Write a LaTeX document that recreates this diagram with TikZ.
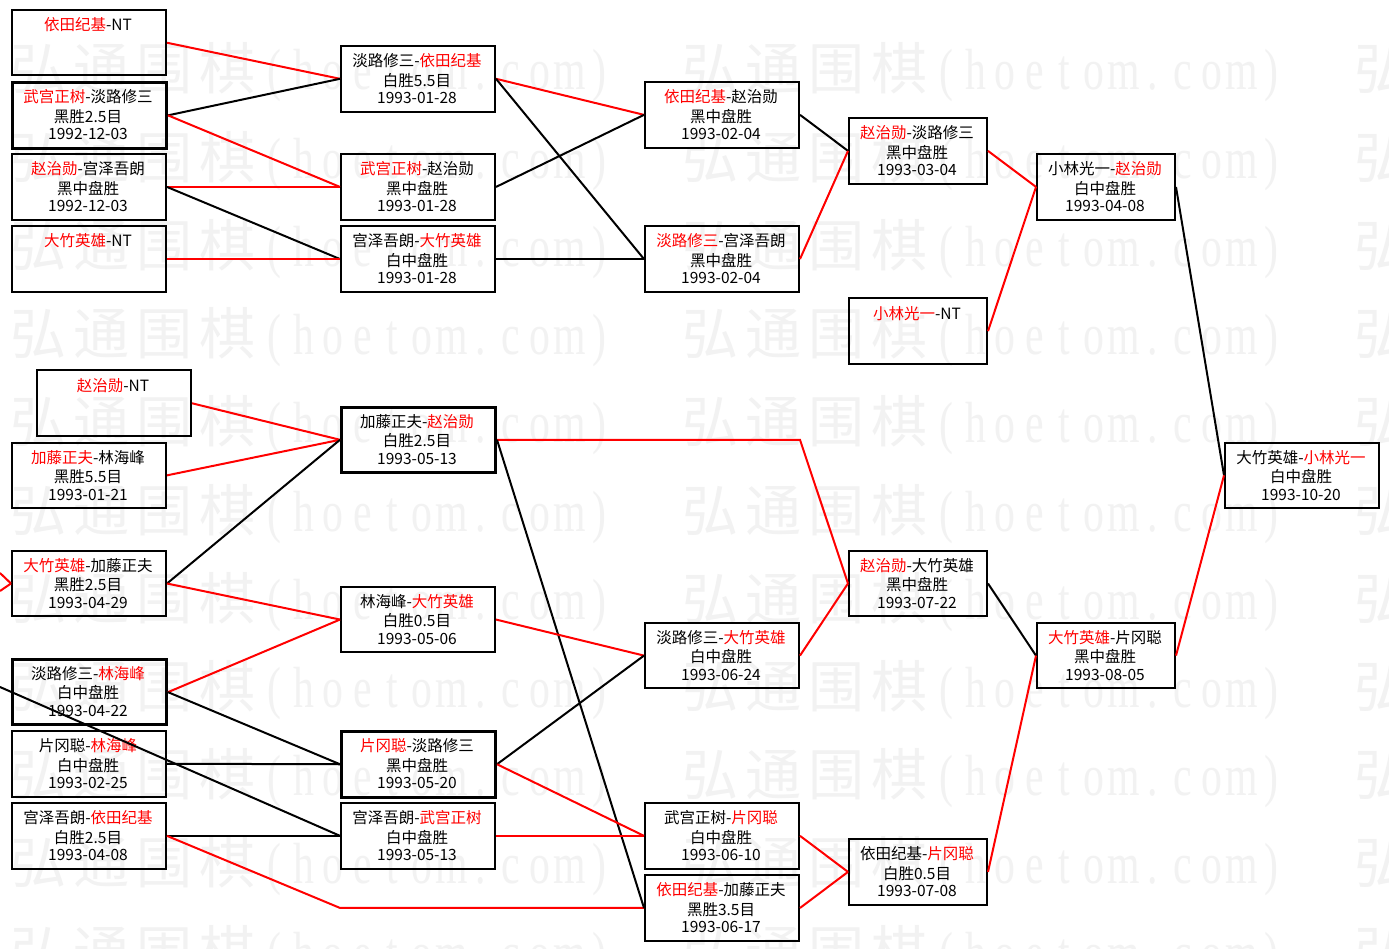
\documentclass[tikz,border=0pt]{standalone}
\usepackage{fontspec}
\setmainfont{Noto Sans CJK SC}
\newfontfamily\wmcjk{Noto Sans CJK SC}
\newfontfamily\wmlat[FakeStretch=0.72]{Liberation Serif}
\newcommand\R[1]{\textcolor{red}{#1}}
\newcommand\wmC[1]{\makebox[63pt][c]{\wmcjk #1}}
\newcommand\wmL[1]{\makebox[29.6pt][c]{\wmlat #1}}
\newcommand\wmtext{{\fontsize{56}{56}\selectfont\wmC{弘}\wmC{通}\wmC{围}\wmC{棋}}{\fontsize{58}{58}\selectfont\wmL{(}\wmL{h}\wmL{o}\wmL{e}\wmL{t}\wmL{o}\wmL{m}\wmL{.}\wmL{c}\wmL{o}\wmL{m}\wmL{)}}}
% #1 name, #2 x, #3 top, #4 width, #5 style, #6-#8 lines
\newcommand\game[8]{%
  \node[gbox,#5,minimum width=#4pt] (#1) at (#2,#3) {};
  \node[gtxt] at ({#2+#4/2},{#3+21.7}) {#6};
  \node[gtxt] at ({#2+#4/2},{#3+41}) {#7};
  \node[gtxt] at ({#2+#4/2},{#3+58.5}) {#8};}
\begin{document}
\begin{tikzpicture}[x=1pt,y=-1pt,
  gbox/.style={draw=black, line width=2pt, minimum height=65.5pt, inner sep=0pt, anchor=north west},
  thickbox/.style={line width=3pt},
  thinbox/.style={},
  gtxt/.style={inner sep=0pt, anchor=base, font=\fontsize{15.5}{18}\selectfont},
  rl/.style={draw=red, line width=2pt},
  bl/.style={draw=black, line width=2pt},
  wm/.style={inner sep=0pt, anchor=base west, text=black!5}]
\useasboundingbox (0,0) rectangle (1389,949);
\fill[white] (0,0) rectangle (1389,949);
\begin{scope}
\clip (0,0) rectangle (1389,949);
\foreach \k in {0,...,10} {
  \foreach \c in {0,1,2} {
    \node[wm] at ({7+672*\c},{90+88.2*\k}) {\wmtext};
  }
}
\end{scope}

\game{A1}{11}{9}{154}{thinbox}{\R{依田纪基}-NT}{}{}
\game{A2}{11}{81.1}{154}{thickbox}{\R{武宫正树}-淡路修三}{黑胜2.5目}{1992-12-03}
\game{A3}{11}{153.2}{154}{thinbox}{\R{赵治勋}-宫泽吾朗}{黑中盘胜}{1992-12-03}
\game{A4}{11}{225.3}{154}{thinbox}{\R{大竹英雄}-NT}{}{}
\game{B1}{340}{45.05}{154}{thinbox}{淡路修三-\R{依田纪基}}{白胜5.5目}{1993-01-28}
\game{B2}{340}{153.2}{154}{thinbox}{\R{武宫正树}-赵治勋}{黑中盘胜}{1993-01-28}
\game{B3}{340}{225.3}{154}{thinbox}{宫泽吾朗-\R{大竹英雄}}{白中盘胜}{1993-01-28}
\game{C1}{644}{81.1}{154}{thinbox}{\R{依田纪基}-赵治勋}{黑中盘胜}{1993-02-04}
\game{C2}{644}{225.3}{154}{thinbox}{\R{淡路修三}-宫泽吾朗}{黑中盘胜}{1993-02-04}
\game{D1}{848}{117.15}{138}{thinbox}{\R{赵治勋}-淡路修三}{黑中盘胜}{1993-03-04}
\game{D2}{848}{297.4}{138}{thinbox}{\R{小林光一}-NT}{}{}
\game{E1}{1036}{153.2}{138}{thinbox}{小林光一-\R{赵治勋}}{白中盘胜}{1993-04-08}
\game{F}{1224}{441.6}{154}{thinbox}{大竹英雄-\R{小林光一}}{白中盘胜}{1993-10-20}
\game{a1}{36}{369.5}{154}{thinbox}{\R{赵治勋}-NT}{}{}
\game{a2}{11}{441.6}{154}{thinbox}{\R{加藤正夫}-林海峰}{黑胜5.5目}{1993-01-21}
\game{a3}{11}{549.75}{154}{thinbox}{\R{大竹英雄}-加藤正夫}{黑胜2.5目}{1993-04-29}
\game{a4}{11}{657.9}{154}{thickbox}{淡路修三-\R{林海峰}}{白中盘胜}{1993-04-22}
\game{a5}{11}{730}{154}{thinbox}{片冈聪-\R{林海峰}}{白中盘胜}{1993-02-25}
\game{a6}{11}{802.1}{154}{thinbox}{宫泽吾朗-\R{依田纪基}}{白胜2.5目}{1993-04-08}
\game{b1}{340}{405.55}{154}{thickbox}{加藤正夫-\R{赵治勋}}{白胜2.5目}{1993-05-13}
\game{b2}{340}{585.8}{154}{thinbox}{林海峰-\R{大竹英雄}}{白胜0.5目}{1993-05-06}
\game{b3}{340}{730}{154}{thickbox}{\R{片冈聪}-淡路修三}{黑中盘胜}{1993-05-20}
\game{b4}{340}{802.1}{154}{thinbox}{宫泽吾朗-\R{武宫正树}}{白中盘胜}{1993-05-13}
\game{c1}{644}{621.85}{154}{thinbox}{淡路修三-\R{大竹英雄}}{白中盘胜}{1993-06-24}
\game{c2}{644}{802.1}{154}{thinbox}{武宫正树-\R{片冈聪}}{白中盘胜}{1993-06-10}
\game{c3}{644}{874.2}{154}{thinbox}{\R{依田纪基}-加藤正夫}{黑胜3.5目}{1993-06-17}
\game{d1}{848}{549.75}{138}{thinbox}{\R{赵治勋}-大竹英雄}{黑中盘胜}{1993-07-22}
\game{d2}{848}{838.15}{138}{thinbox}{依田纪基-\R{片冈聪}}{白胜0.5目}{1993-07-08}
\game{e1}{1036}{621.85}{138}{thinbox}{\R{大竹英雄}-片冈聪}{黑中盘胜}{1993-08-05}

\coordinate (o1) at (0,573);
\coordinate (o2) at (0,591);
\coordinate (o3) at (0,687);

% top half
\draw[rl] (A1.east) -- (B1.west);
\draw[bl] (A2.east) -- (B1.west);
\draw[rl] (A2.east) -- (B2.west);
\draw[rl] (A3.east) -- (B2.west);
\draw[bl] (A3.east) -- (B3.west);
\draw[rl] (A4.east) -- (B3.west);
\draw[rl] (B1.east) -- (C1.west);
\draw[bl] (B1.east) -- (C2.west);
\draw[bl] (B2.east) -- (C1.west);
\draw[bl] (B3.east) -- (C2.west);
\draw[bl] (C1.east) -- (D1.west);
\draw[rl] (C2.east) -- (D1.west);
\draw[rl] (D1.east) -- (E1.west);
\draw[rl] (D2.east) -- (E1.west);
\draw[bl] (E1.east) -- (F.west);
% bottom half
\draw[rl] (a1.east) -- (b1.west);
\draw[rl] (a2.east) -- (b1.west);
\draw[bl] (a3.east) -- (b1.west);
\draw[rl] (a3.east) -- (b2.west);
\draw[rl] (a4.east) -- (b2.west);
\draw[bl] (a4.east) -- (b3.west);
\draw[bl] (a5.east) -- (b3.west);
\draw[bl] (a6.east) -- (b4.west);
\draw[bl] (o3) -- (b4.west);
\draw[rl] (o1) -- (a3.west);
\draw[rl] (o2) -- (a3.west);
\draw[rl] (a6.east) -- (c3.west -| b4.west) -- (c3.west);
\draw[rl] (b1.east) -- (b1.east -| c3.east) -- (d1.west);
\draw[bl] (b1.east) -- (c3.west);
\draw[rl] (b2.east) -- (c1.west);
\draw[bl] (b3.east) -- (c1.west);
\draw[rl] (b3.east) -- (c2.west);
\draw[rl] (b4.east) -- (c2.west);
\draw[rl] (c1.east) -- (d1.west);
\draw[rl] (c2.east) -- (d2.west);
\draw[rl] (c3.east) -- (d2.west);
\draw[bl] (d1.east) -- (e1.west);
\draw[rl] (d2.east) -- (e1.west);
\draw[rl] (e1.east) -- (F.west);
\end{tikzpicture}
\end{document}
